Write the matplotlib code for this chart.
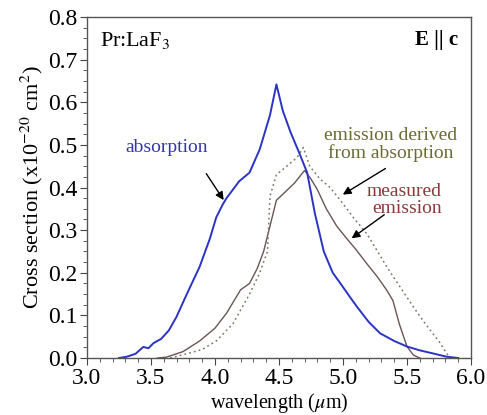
import matplotlib
matplotlib.use("Agg")
import matplotlib.pyplot as plt
from matplotlib.ticker import MultipleLocator

plt.rcParams['font.family'] = ['Liberation Serif', 'DejaVu Serif']
plt.rcParams['mathtext.fontset'] = 'stix'

# absorption (blue)
abs_wl = [3.25, 3.31, 3.38, 3.44, 3.48, 3.52, 3.58, 3.64, 3.70, 3.78, 3.88, 3.96, 4.01, 4.06, 4.09,
          4.14, 4.19, 4.27, 4.35, 4.43, 4.48, 4.53, 4.59, 4.66, 4.72, 4.78, 4.85, 4.92, 4.98, 5.05,
          5.11, 5.2, 5.29, 5.4, 5.5, 5.6, 5.70, 5.81, 5.9]
abs_cs = [0.0, 0.003, 0.01, 0.026, 0.023, 0.035, 0.045, 0.065, 0.097, 0.15, 0.214, 0.28, 0.33, 0.36, 0.375,
          0.395, 0.415, 0.435, 0.49, 0.57, 0.642, 0.58, 0.53, 0.48, 0.435, 0.34, 0.25, 0.2, 0.175, 0.145,
          0.12, 0.085, 0.058, 0.04, 0.027, 0.018, 0.011, 0.003, 0.0]

# measured emission (solid, brownish grey)
meas_wl = [3.55, 3.62, 3.75, 3.88, 4.0, 4.09, 4.2, 4.27, 4.33, 4.38, 4.43, 4.48, 4.55, 4.62, 4.70,
           4.75, 4.80, 4.87, 4.95, 5.03, 5.1, 5.19, 5.27, 5.34, 5.39, 5.44, 5.5, 5.55, 5.6]
meas_cs = [0.0, 0.002, 0.015, 0.04, 0.07, 0.105, 0.16, 0.175, 0.21, 0.25, 0.31, 0.37, 0.39, 0.41, 0.44,
           0.42, 0.395, 0.35, 0.31, 0.28, 0.255, 0.22, 0.19, 0.16, 0.135, 0.08, 0.027, 0.007, 0.0]

# emission derived from absorption (dotted)
der_wl = [3.65, 3.78, 3.9, 4.01, 4.14, 4.27, 4.35, 4.41, 4.43, 4.48, 4.56, 4.64, 4.69, 4.74, 4.82,
          4.9, 4.98, 5.08, 5.19, 5.27, 5.34, 5.45, 5.55, 5.62, 5.68, 5.76, 5.81, 5.85]
der_cs = [0.0, 0.01, 0.02, 0.04, 0.08, 0.15, 0.2, 0.25, 0.38, 0.43, 0.45, 0.47, 0.494, 0.45, 0.42,
          0.4, 0.37, 0.33, 0.29, 0.25, 0.215, 0.165, 0.12, 0.09, 0.066, 0.035, 0.01, 0.0]

fig = plt.figure(figsize=(4.87, 4.15), dpi=100)
ax = fig.add_axes([0.1786, 0.1373, 0.7885, 0.8217])

ax.plot(meas_wl, meas_cs, color='#6a5555', lw=1.0)
ax.plot(der_wl, der_cs, color='#7a7a68', lw=1.1, ls=(0, (1.2, 2.0)))
ax.plot(abs_wl, abs_cs, color='#2b33c4', lw=1.4)

ax.set_xlim(3.0, 6.0)
ax.set_ylim(0.0, 0.8)
ax.xaxis.set_major_locator(MultipleLocator(0.5))
ax.xaxis.set_minor_locator(MultipleLocator(0.1))
ax.yaxis.set_major_locator(MultipleLocator(0.1))
ax.yaxis.set_minor_locator(MultipleLocator(0.025))
ax.xaxis.set_major_formatter(plt.FormatStrFormatter('%.1f'))
ax.yaxis.set_major_formatter(plt.FormatStrFormatter('%.1f'))
ax.tick_params(which='both', direction='out', top=False, right=False, labelsize=17,
               color='#444444', pad=2)
ax.tick_params(axis='x', which='both', pad=2)
ax.tick_params(which='major', length=5)
ax.tick_params(which='minor', length=3)
for s in ax.spines.values():
    s.set_color('#555555')
    s.set_linewidth(1.0)

ax.set_xlabel('wavelength ($\\mu$m)', fontsize=14.5)
ax.xaxis.set_label_coords(0.5, -0.098)
ax.set_ylabel('Cross section (x10$^{-20}$ cm$^2$)', fontsize=16, labelpad=2)

ax.text(3.1, 0.745, 'Pr:LaF$_3$', fontsize=16, va='center', ha='left')
ax.text(5.9, 0.745, 'E || c', fontsize=15, va='center', ha='right', fontweight='bold')

ax.text(3.62, 0.495, 'absorption', fontsize=14, color='#3535b0', ha='center', va='center')
ax.annotate('', xy=(4.08, 0.365), xytext=(3.92, 0.438),
            arrowprops=dict(arrowstyle='-|>', color='black', lw=1.0, mutation_scale=12))

ax.text(5.37, 0.5, 'emission derived\nfrom absorption', fontsize=14, color='#6b6b35',
        ha='center', va='center', linespacing=1.0)
ax.annotate('', xy=(4.98, 0.38), xytext=(5.35, 0.448),
            arrowprops=dict(arrowstyle='-|>', color='black', lw=1.0, mutation_scale=12))

ax.text(5.77, 0.37, 'measured\nemission', fontsize=14, color='#8a3a3a',
        ha='right', va='center', linespacing=1.0)
ax.annotate('', xy=(5.05, 0.277), xytext=(5.34, 0.34),
            arrowprops=dict(arrowstyle='-|>', color='black', lw=1.0, mutation_scale=12))

fig.savefig('out.png', dpi=100)
